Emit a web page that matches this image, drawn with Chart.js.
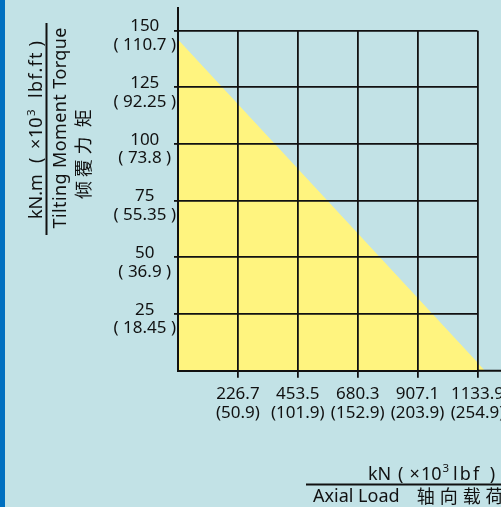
<!DOCTYPE html>
<html>
<head>
<meta charset="utf-8">
<script src="https://cdn.jsdelivr.net/npm/chart.js@4"></script>
<style>
  html, body { margin: 0; padding: 0; background: #c2e2e6; overflow: hidden; }
  #wrap { position: relative; width: 501px; height: 507px; }
  #stripe { position: absolute; left: 0; top: 0; width: 5px; height: 507px; background: #0070c0; }
</style>
</head>
<body>
<div id="wrap">
  <canvas id="grafico" width="501" height="507"></canvas>
  <div id="stripe"></div>
</div>
<script>
// ===== DADOS =====
const cargaAxialKN = [226.7, 453.5, 680.3, 907.1, 1133.9];
const cargaAxialLbf = ['(50.9)', '(101.9)', '(152.9)', '(203.9)', '(254.9)'];
const momentoKNm = [25, 50, 75, 100, 125, 150];
const momentoLbf = ['( 18.45 )', '( 36.9 )', '( 55.35 )', '( 73.8 )', '( 92.25 )', '( 110.7 )'];
// curva limite de carga (kN, kN.m)
const curvaX = [0, 1162];
const curvaY = [146, 0];

const AMARELO = '#fff47f';
const PRETO = '#111';
const FONTE = '"Noto Sans", sans-serif';
const FONTE_CJK = '"Noto Sans CJK SC", sans-serif';

// ===== PLUGIN: área amarela, extensões dos eixos, títulos =====
const extras = {
  id: 'extras',
  beforeDatasetsDraw(chart) {
    const { ctx, scales: { x, y } } = chart;
    ctx.save();
    ctx.fillStyle = AMARELO;
    ctx.beginPath();
    ctx.moveTo(x.getPixelForValue(curvaX[0]), y.getPixelForValue(0));
    curvaX.forEach((v, i) => ctx.lineTo(x.getPixelForValue(v), y.getPixelForValue(curvaY[i])));
    ctx.closePath();
    ctx.fill();
    ctx.restore();
  },
  afterDraw(chart) {
    const { ctx, chartArea } = chart;
    ctx.save();
    ctx.strokeStyle = PRETO;
    ctx.lineWidth = 2;
    // eixo Y sobe acima da grade, eixo X vai até a borda
    ctx.beginPath();
    ctx.moveTo(chartArea.left, chartArea.top);
    ctx.lineTo(chartArea.left, 7);
    ctx.moveTo(chartArea.right, chartArea.bottom);
    ctx.lineTo(chart.width, chartArea.bottom);
    ctx.stroke();

    // linhas de fração
    ctx.beginPath();
    ctx.moveTo(46.5, 23);
    ctx.lineTo(46.5, 235);
    ctx.moveTo(306, 484.5);
    ctx.lineTo(chart.width, 484.5);
    ctx.stroke();

    ctx.fillStyle = PRETO;
    ctx.textBaseline = 'alphabetic';
    ctx.textAlign = 'left';
    function partes(lista) {
      lista.forEach(([t, dx, sup, esp]) => {
        ctx.font = (sup ? '11.5px ' : '18px ') + FONTE;
        ctx.letterSpacing = (esp || 0) + 'px';
        ctx.fillText(t, dx, sup ? -7.5 : 0);
      });
      ctx.letterSpacing = '0px';
    }
    const unidade = (u, d, esp) => [['(', d[0]], ['×', d[1]], ['10', d[2]], ['3', d[3], true], [u, d[4], false, esp], [')', d[5]]];

    // título Y (girado)
    ctx.save();
    ctx.translate(42, 219);
    ctx.rotate(-Math.PI / 2);
    partes([['kN.m', 0], ...unidade('lbf.ft', [56, 70, 81, 103, 121, 172.5], 1.3)]);
    ctx.restore();

    ctx.save();
    ctx.translate(65.5, 228.5);
    ctx.rotate(-Math.PI / 2);
    ctx.font = '18px ' + FONTE;
    ctx.letterSpacing = '0.4px';
    ctx.fillText('Tilting Moment Torque', 0, 0);
    ctx.restore();

    ctx.font = '18px ' + FONTE_CJK;
    ctx.textAlign = 'center';
    ctx.textBaseline = 'middle';
    [['倾', 190], ['覆', 168.3], ['力', 145.5], ['矩', 118.3]].forEach(([c, cy]) => {
      ctx.save();
      ctx.translate(83.5, cy);
      ctx.rotate(-Math.PI / 2);
      ctx.fillText(c, 0, 0);
      ctx.restore();
    });

    // título X
    ctx.textAlign = 'left';
    ctx.textBaseline = 'alphabetic';
    ctx.save();
    ctx.translate(368, 479.5);
    partes([['kN', 0], ...unidade('lbf', [30, 41.5, 53, 74.5, 85, 121.7], 2.2)]);
    ctx.restore();

    ctx.font = '18px ' + FONTE;
    ctx.fillText('Axial Load', 313, 501.5);
    ctx.font = '18px ' + FONTE_CJK;
    ctx.textAlign = 'center';
    ctx.textBaseline = 'middle';
    [['轴', 425.8], ['向', 448.8], ['载', 471.8], ['荷', 494.5]].forEach(([c, cx]) => ctx.fillText(c, cx, 496));
    ctx.restore();
  }
};

// ===== GRÁFICO =====
const ctx = document.getElementById('grafico');
new Chart(ctx, {
  type: 'line',
  data: {
    datasets: [{
      data: curvaX.map((v, i) => ({ x: v, y: curvaY[i] })),
      fill: 'origin',
      backgroundColor: AMARELO,
      borderWidth: 0,
      pointRadius: 0,
      clip: false
    }]
  },
  options: {
    responsive: false,
    animation: false,
    events: [],
    layout: { padding: { top: 30.7, right: 23.5, left: 0, bottom: 0 } },
    plugins: { legend: { display: false }, tooltip: { enabled: false }, title: { display: false } },
    scales: {
      x: {
        type: 'linear',
        min: 0,
        max: 1133.9,
        afterBuildTicks: s => { s.ticks = cargaAxialKN.map(v => ({ value: v })); },
        afterFit: s => { s.height = 136.3; s.paddingLeft = 0; s.paddingRight = 0; },
        grid: { color: PRETO, lineWidth: 1.8, tickLength: 7, drawTicks: true, z: 1 },
        border: { display: true, color: PRETO, width: 2, z: 1 },
        ticks: {
          autoSkip: false,
          maxRotation: 0,
          padding: 7,
          color: PRETO,
          font: { family: FONTE, size: 17, lineHeight: 1.1 },
          callback: (v) => {
            const i = cargaAxialKN.indexOf(v);
            return i < 0 ? '' : [String(v), cargaAxialLbf[i]];
          }
        }
      },
      y: {
        type: 'linear',
        min: 0,
        max: 150,
        afterBuildTicks: s => { s.ticks = momentoKNm.map(v => ({ value: v })); },
        afterFit: s => { s.width = 178; s.paddingTop = 0; s.paddingBottom = 0; },
        grid: { color: PRETO, lineWidth: 1.8, tickLength: 4, drawTicks: true, z: 1 },
        border: { display: true, color: PRETO, width: 2, z: 1 },
        ticks: {
          autoSkip: false,
          crossAlign: 'center',
          padding: -2,
          labelOffset: 5,
          color: PRETO,
          font: { family: FONTE, size: 17, lineHeight: 1.1 },
          callback: (v) => {
            const i = momentoKNm.indexOf(v);
            return i < 0 ? '' : [String(v), momentoLbf[i]];
          }
        }
      }
    }
  },
  plugins: [extras]
});
</script>
</body>
</html>
